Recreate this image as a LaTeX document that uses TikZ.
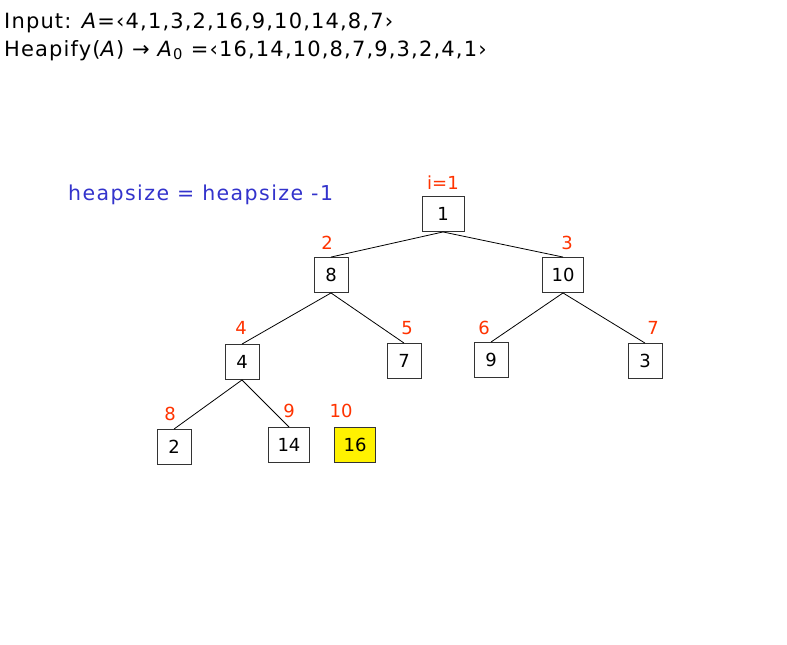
\documentclass[tikz,border=0pt]{standalone}
\usepackage{fontspec}
\setmainfont{DejaVu Sans}
\definecolor{idxred}{RGB}{255,51,0}
\definecolor{sizeblue}{RGB}{51,51,204}
\begin{document}
\begin{tikzpicture}[x=1pt,y=-1pt,
  heapbox/.style={draw=black!80,line width=0.9pt,fill=white,minimum width=34pt,minimum height=35pt,
    inner xsep=9pt,font=\fontsize{18}{18}\selectfont},
  idx/.style={text=idxred,font=\fontsize{18}{18}\selectfont},
  edge/.style={draw=black,line width=0.8pt},
  hdr/.style={anchor=base west,inner sep=0pt,font=\fontsize{21}{23}\selectfont\addfontfeature{LetterSpace=5.5}}]
\useasboundingbox (0,0) rectangle (787,645);
\fill[white] (0,0) rectangle (787,645);

% header lines
\node[hdr] (in) at (4,28) {Input: \textit{A}=‹4,1,3,2,16,9,10,14,8,7›};
\node[hdr] (hp) at (4,56) {Heapify(\textit{A}) → \textit{A}\textsubscript{0} =‹16,14,10,8,7,9,3,2,4,1›};

\node[anchor=west,inner sep=0pt,text=sizeblue,font=\fontsize{20.5}{22}\selectfont\addfontfeature{LetterSpace=7}] (hs) at (68,195) {heapsize = heapsize -1};

% heap nodes
\node[heapbox,minimum width=42pt] (n1) at (443,214) {1};
\node[heapbox] (n2) at (331,275) {8};
\node[heapbox] (n3) at (563,275) {10};
\node[heapbox] (n4) at (242,362) {4};
\node[heapbox] (n5) at (404,361) {7};
\node[heapbox] (n6) at (491,360) {9};
\node[heapbox] (n7) at (645,361) {3};
\node[heapbox] (n8) at (174,447) {2};
\node[heapbox] (n9) at (289,445) {14};
\node[heapbox,fill=yellow] (n10) at (355,445) {16};

% edges
\foreach \p/\c in {n1/n2,n1/n3,n2/n4,n2/n5,n3/n6,n3/n7,n4/n8,n4/n9}
  \draw[edge] (\p.south) -- (\c.north);

% index labels
\node[idx] (l1) at (443,183) {i=1};
\node[idx] (l2) at (327,243) {2};
\node[idx] (l3) at (567,243) {3};
\node[idx] (l4) at (241,328) {4};
\node[idx] (l5) at (407,328) {5};
\node[idx] (l6) at (484,328) {6};
\node[idx] (l7) at (653,328) {7};
\node[idx] (l8) at (170,414) {8};
\node[idx] (l9) at (289,411) {9};
\node[idx] (l10) at (341,411) {10};
\end{tikzpicture}
\end{document}
